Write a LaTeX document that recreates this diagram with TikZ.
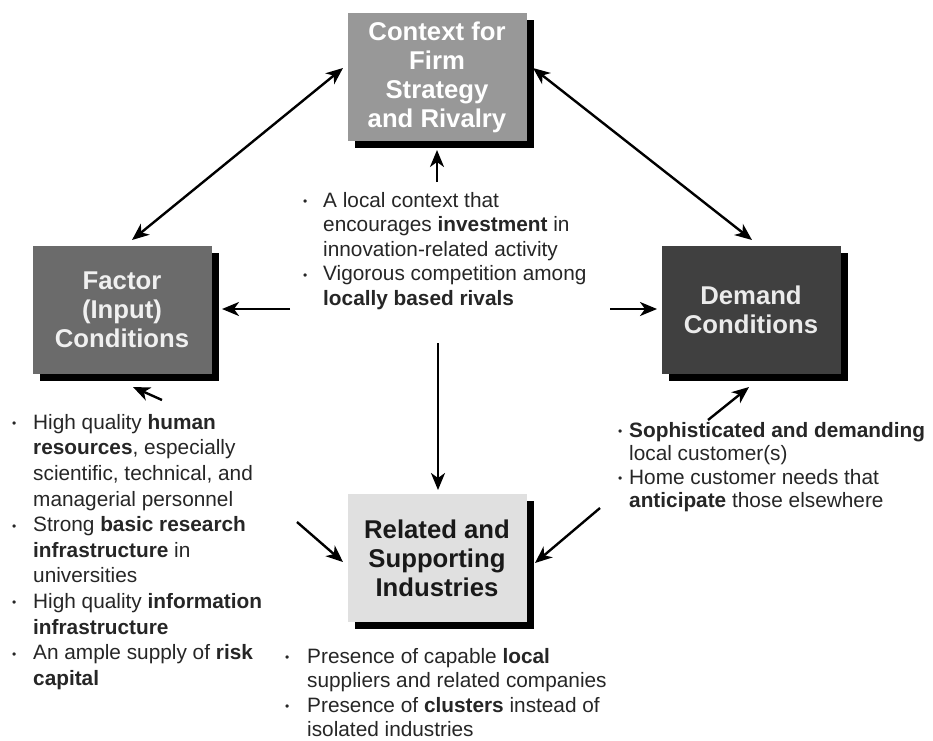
\documentclass[tikz,border=0pt]{standalone}
\usepackage{fontspec}
\setmainfont{Liberation Sans}
\usetikzlibrary{arrows.meta,shadows}
\definecolor{ctxgray}{HTML}{989898}
\definecolor{facgray}{HTML}{6B6B6B}
\definecolor{demgray}{HTML}{404040}
\definecolor{relgray}{HTML}{E0E0E0}
\definecolor{txt}{HTML}{262626}
\newcommand\bl[1]{\makebox[#1][l]{\raisebox{1.5pt}{\fontsize{12}{12}\selectfont •}}}
\newcommand\ind[1]{\hspace*{#1}}
\begin{document}
\begin{tikzpicture}[x=1pt,y=-1pt,
  box/.style={draw=none, inner sep=0pt, align=center,
    minimum width=179pt, minimum height=128pt,
    font=\bfseries\fontsize{25.7}{29}\selectfont,
    drop shadow={shadow xshift=7pt,shadow yshift=-7pt,fill=black,opacity=1}},
  blurb/.style={anchor=north west, inner sep=0pt, align=left, text=txt},
  tip/.tip={Stealth[length=17pt,width=14pt,inset=5pt]},
  conn/.style={line width=2.4pt, -tip},
  dconn/.style={line width=2.4pt, tip-tip}
]
\fill[white] (0,0) rectangle (933,740);
\useasboundingbox (0,0) rectangle (933,740);

% boxes
\node[box, fill=ctxgray, text=white] (ctx) at (437,77) {Context for\\Firm\\Strategy\\and Rivalry};
\node[box, fill=facgray, text=white!94!black] (fac) at (122,310) {Factor\\(Input)\\Conditions};
\node[box, fill=demgray, text=white!92!black] (dem) at (751,310) {Demand\\Conditions};
\node[box, fill=relgray, text=black!90] (rel) at (437,558) {Related and\\Supporting\\Industries};

% text blocks
\node[blurb, font=\fontsize{20.8}{24.5}\selectfont] (ctxt) at (303,192)
 {\bl{20pt}A local context that\\
  \ind{20pt}encourages \textbf{investment} in\\
  \ind{20pt}innovation-related activity\\
  \bl{20pt}Vigorous competition among\\
  \ind{20pt}\textbf{locally based rivals}};

\node[blurb, font=\fontsize{20.8}{25.6}\selectfont] (ftxt) at (12,414)
 {\bl{21pt}High quality \textbf{human}\\
  \ind{21pt}\textbf{resources}, especially\\
  \ind{21pt}scientific, technical, and\\
  \ind{21pt}managerial personnel\\
  \bl{21pt}Strong \textbf{basic research}\\
  \ind{21pt}\textbf{infrastructure} in\\
  \ind{21pt}universities\\
  \bl{21pt}High quality \textbf{information}\\
  \ind{21pt}\textbf{infrastructure}\\
  \bl{21pt}An ample supply of \textbf{risk}\\
  \ind{21pt}\textbf{capital}};

\node[blurb, font=\fontsize{20.8}{23.4}\selectfont] (dtxt) at (618,422)
 {\bl{11pt}\textbf{Sophisticated and demanding}\\
  \ind{11pt}local customer(s)\\
  \bl{11pt}Home customer needs that\\
  \ind{11pt}\textbf{anticipate} those elsewhere};

\node[blurb, font=\fontsize{20.8}{24.5}\selectfont] (rtxt) at (285,648)
 {\bl{22pt}Presence of capable \textbf{local}\\
  \ind{22pt}suppliers and related companies\\
  \bl{22pt}Presence of \textbf{clusters} instead of\\
  \ind{22pt}isolated industries};

% connector end points
\coordinate (cf1) at (343,68);
\coordinate (cf2) at (132,240);
\coordinate (cd1) at (533,68);
\coordinate (cd2) at (752,240);
\coordinate (up0) at (437,182);
\coordinate (up1) at (437,150);
\coordinate (lf0) at (290,309);
\coordinate (lf1) at (222,309);
\coordinate (rt0) at (610,309);
\coordinate (rt1) at (657,309);
\coordinate (dn0) at (438,343);
\coordinate (dn1) at (438,490);
\coordinate (sf0) at (162,400);
\coordinate (sf1) at (133,387);
\coordinate (sd0) at (708,420);
\coordinate (sd1) at (749,387);
\coordinate (bl0) at (297,522);
\coordinate (bl1) at (343,562);
\coordinate (br0) at (600,508);
\coordinate (br1) at (535,563);

\draw[dconn] (cf1) -- (cf2);
\draw[dconn] (cd1) -- (cd2);
\draw[conn] (up0) -- (up1);
\draw[conn] (lf0) -- (lf1);
\draw[conn] (rt0) -- (rt1);
\draw[conn] (dn0) -- (dn1);
\draw[conn] (sf0) -- (sf1);
\draw[conn] (sd0) -- (sd1);
\draw[conn] (bl0) -- (bl1);
\draw[conn] (br0) -- (br1);
\end{tikzpicture}
\end{document}
